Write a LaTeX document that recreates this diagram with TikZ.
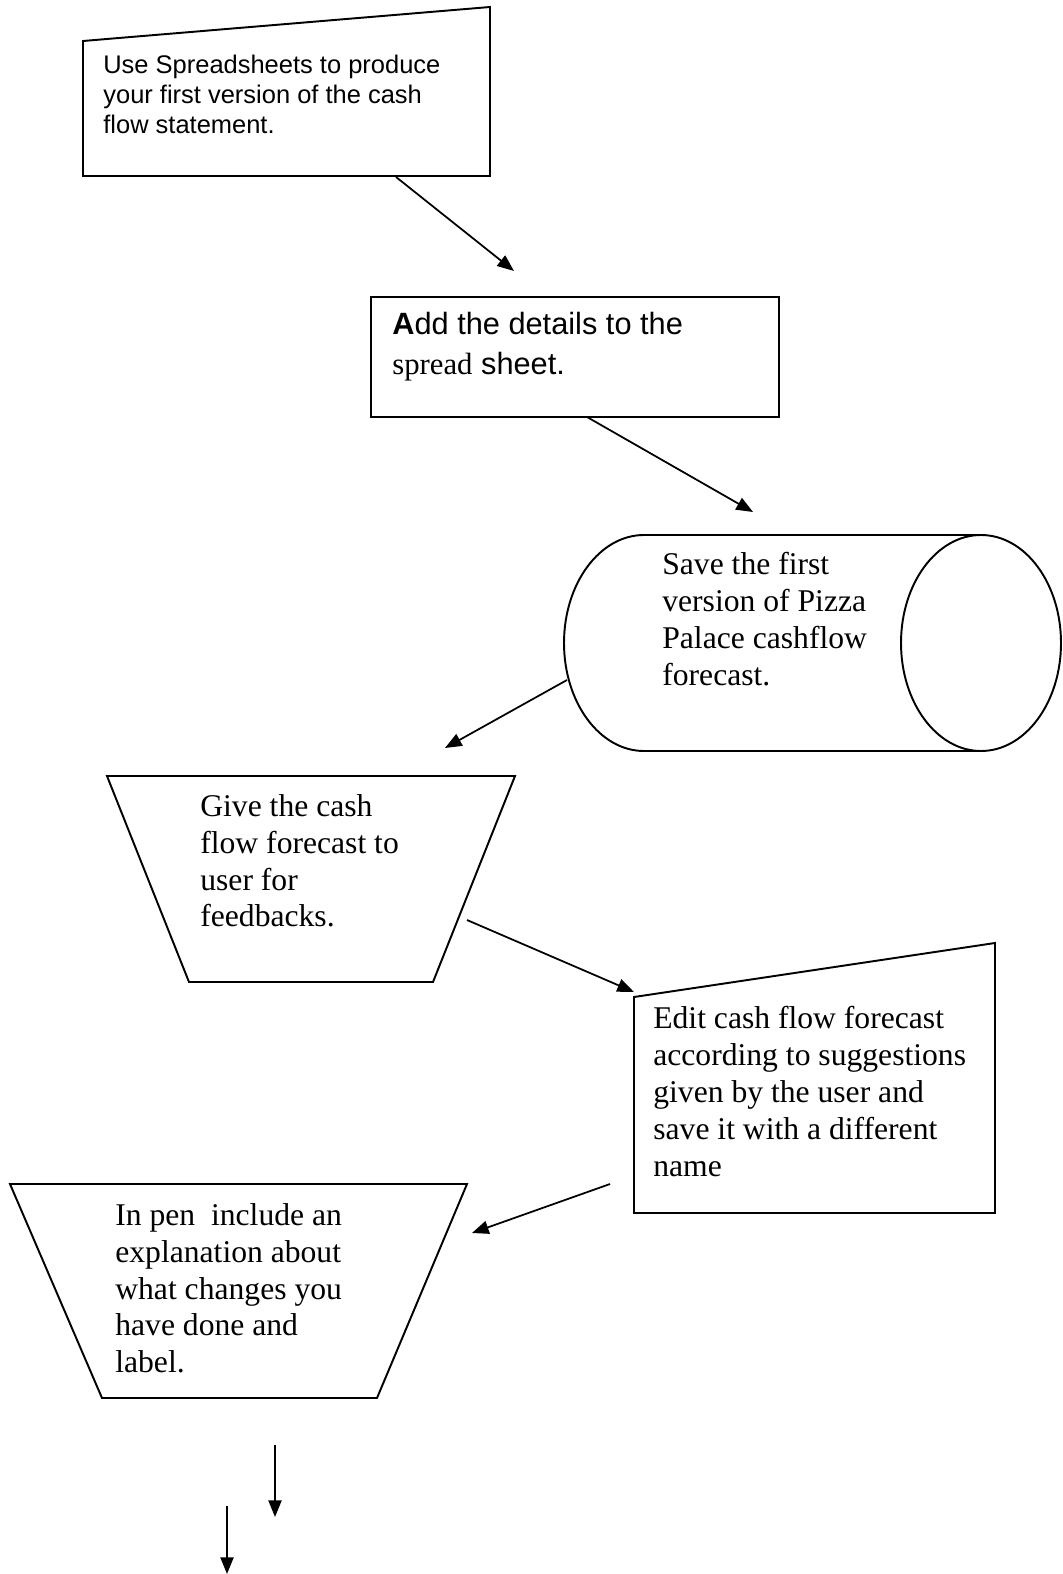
\documentclass[tikz,border=0pt]{standalone}
\usepackage{fontspec}
\setmainfont{Liberation Serif}
\setsansfont{Liberation Sans}
\usepackage{tikz}
\usetikzlibrary{arrows.meta, calc}

\begin{document}
\begin{tikzpicture}[x=0.02cm, y=-0.02cm,
        forme/.style={draw=black, line width=1.1pt, line join=miter},
        fleche/.style={-{Triangle[length=9.5pt, width=7.5pt]}, line width=1pt},
        texteserif/.style={anchor=north west, inner sep=0pt, align=left, font=\fontsize{18}{21}\selectfont},
        textesans/.style={anchor=north west, inner sep=0pt, align=left, font=\sffamily\fontsize{14.5}{17}\selectfont}]
    \useasboundingbox (0,0) rectangle (1062,1574);

    % --- Tableur (saisie manuelle) ---
    \draw[forme] (83,41) -- (490,7) -- (490,176) -- (83,176) -- cycle;
    \node[textesans] (tableur) at (103,55) {Use Spreadsheets to produce\\your first version of the cash\\flow statement.};
    \coordinate (tableurOut) at (396,177);
    \coordinate (detailsIn) at (514,271);

    % --- Details ---
    \draw[forme] (371,297) rectangle (779,417);
    \node[textesans, font=\sffamily\fontsize{17.5}{22.7}\selectfont] (details) at (392,312)
        {\textbf{A}dd the details to the\\{\rmfamily spread} sheet.};
    \coordinate (detailsOut) at (587,417);
    \coordinate (sauverIn) at (753,512);

    % --- Sauvegarde (cylindre) ---
    \draw[forme] (981,643) ellipse [x radius=80, y radius=108];
    \draw[forme] (981,535) -- (644,535) arc[start angle=270, end angle=90, x radius=80, y radius=108] -- (981,751);
    \node[texteserif] (sauver) at (662,552) {Save the first\\version of Pizza\\Palace cashflow\\forecast.};
    \coordinate (sauverOut) at (567,680);
    \coordinate (donnerIn) at (445,748);

    % --- Retour utilisateur ---
    \draw[forme] (107,776) -- (515,776) -- (433,982) -- (189,982) -- cycle;
    \node[texteserif] (donner) at (200,794) {Give the cash\\flow forecast to\\user for\\feedbacks.};
    \coordinate (donnerOut) at (467,920);
    \coordinate (modifierIn) at (634,992);

    % --- Modification ---
    \draw[forme] (634,997) -- (995,943) -- (995,1213) -- (634,1213) -- cycle;
    \node[texteserif] (modifier) at (653,1006) {Edit cash flow forecast\\according to suggestions\\given by the user and\\save it with a different\\name};
    \coordinate (modifierOut) at (610,1184);
    \coordinate (expliquerIn) at (472,1233);

    % --- Explication ---
    \draw[forme] (10,1184) -- (467,1184) -- (377,1398) -- (102,1398) -- cycle;
    \node[texteserif] (expliquer) at (115,1203) {In pen~ include an\\explanation about\\what changes you\\have done and\\label.};

    % Fleches du bas
    \coordinate (basA) at (275,1445);
    \coordinate (finA) at (275,1517);
    \coordinate (basB) at (227,1506);
    \coordinate (finB) at (227,1574);

    % --- Connexions ---
    \draw[fleche] (tableurOut) -- (detailsIn);
    \draw[fleche] (detailsOut) -- (sauverIn);
    \draw[fleche] (sauverOut) -- (donnerIn);
    \draw[fleche] (donnerOut) -- (modifierIn);
    \draw[fleche] (modifierOut) -- (expliquerIn);
    \draw[fleche] (basA) -- (finA);
    \draw[fleche] (basB) -- (finB);
\end{tikzpicture}
\end{document}
